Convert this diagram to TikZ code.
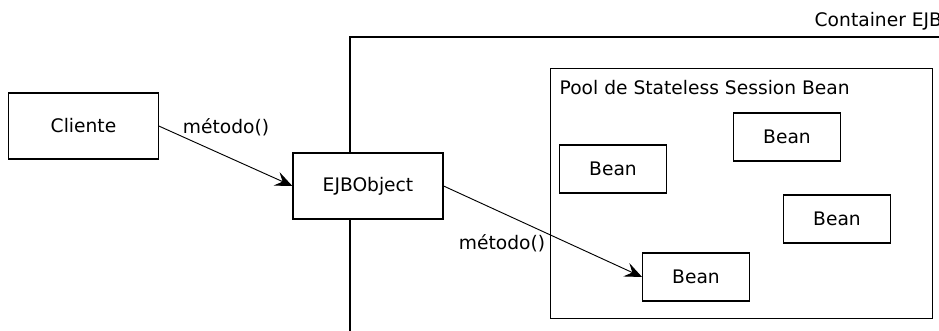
\documentclass[tikz,border=0pt]{standalone}
\usepackage{fontspec}
\setmainfont{DejaVu Sans}
\usetikzlibrary{arrows.meta}

\begin{document}
\begin{tikzpicture}[x=0.75pt,y=-0.75pt,
    box/.style={draw,line width=0.9pt,fill=white,font=\fontsize{14}{16}\selectfont},
    bean/.style={box,minimum width=80pt,minimum height=36pt},
    msg/.style={-{Stealth[length=13pt,width=11pt,inset=5pt]},line width=0.7pt}]
            \useasboundingbox (0,0) rectangle (939,331);
            % container
            \draw[line width=0.9pt] (350,340) -- (350,37) -- (950,37);
            \node (cont) [anchor=west,font=\fontsize{14}{16}\selectfont] at (810,21) {Container EJB};
            % pool
            \node (pool) [draw,line width=0.9pt,minimum width=287pt,minimum height=187pt] at (741.5,193.5) {};
            \node (pooltit) [anchor=west,font=\fontsize{14}{16}\selectfont] at (555,88) {Pool de Stateless Session Bean};
            \node (b1) [bean] at (613,169) {Bean};
            \node (b2) [bean] at (787,137) {Bean};
            \node (b3) [bean] at (837,219) {Bean};
            \node (b4) [bean] at (696,277) {Bean};
            % client and EJBObject
            \node (cli) [box,minimum width=112pt,minimum height=49.5pt] at (83.5,126) {Cliente};
            \node (ejb) [box,minimum width=112.5pt,minimum height=49.5pt] at (368,186) {EJBObject};
            \draw[msg] (cli.east) -- (ejb.west);
            \draw[msg] (ejb.east) -- (b4.west);
            \node (m1) [font=\fontsize{14}{16}\selectfont] at (226,127) {método()};
            \node (m2) [font=\fontsize{14}{16}\selectfont] at (502,243) {método()};
        \end{tikzpicture}
\end{document}
